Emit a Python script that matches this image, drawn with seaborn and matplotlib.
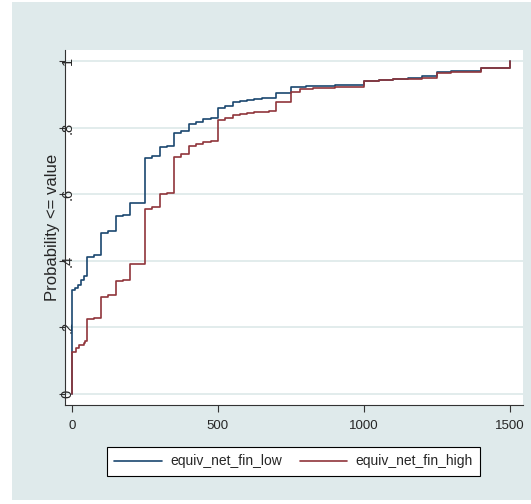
import pandas as pd
import seaborn as sns
import matplotlib.pyplot as plt
from matplotlib.patches import Rectangle

# ECDF step points
low_x = [0, 0, 10, 20, 30, 40, 50, 75, 100, 125, 150, 175, 200, 250, 275, 300, 325, 350, 375,
         400, 425, 450, 475, 500, 525, 550, 575, 600, 625, 650, 675, 700, 750, 800, 850, 900,
         950, 1000, 1050, 1100, 1150, 1200, 1250, 1300, 1350, 1400, 1500, 1500]
low_y = [0, 0.312, 0.318, 0.328, 0.342, 0.355, 0.412, 0.417, 0.484, 0.490, 0.534, 0.537, 0.575,
         0.709, 0.714, 0.741, 0.744, 0.783, 0.790, 0.810, 0.818, 0.826, 0.829, 0.860, 0.866,
         0.876, 0.880, 0.883, 0.885, 0.888, 0.890, 0.905, 0.921, 0.924, 0.926, 0.927, 0.929,
         0.940, 0.943, 0.945, 0.948, 0.955, 0.966, 0.969, 0.971, 0.978, 0.978, 1.0]

high_x = [0, 0, 15, 25, 40, 45, 50, 75, 100, 125, 150, 175, 200, 225, 250, 275, 300, 325, 350,
          375, 400, 425, 450, 475, 500, 525, 550, 575, 600, 625, 650, 675, 700, 750, 780, 825,
          900, 950, 1000, 1050, 1100, 1150, 1200, 1250, 1300, 1350, 1400, 1500, 1500]
high_y = [0, 0.127, 0.137, 0.147, 0.152, 0.160, 0.224, 0.228, 0.292, 0.296, 0.340, 0.343,
          0.389, 0.391, 0.556, 0.562, 0.600, 0.604, 0.713, 0.722, 0.745, 0.752, 0.758, 0.761,
          0.823, 0.830, 0.838, 0.841, 0.843, 0.846, 0.848, 0.850, 0.878, 0.908, 0.915, 0.920,
          0.921, 0.922, 0.940, 0.943, 0.945, 0.947, 0.950, 0.963, 0.966, 0.968, 0.978, 0.978, 1.0]

y_ticks = [0, 0.2, 0.4, 0.6, 0.8, 1.0]
y_tick_labels = ["0", ".2", ".4", ".6", ".8", "1"]
x_ticks = [0, 500, 1000, 1500]
series_names = ["equiv_net_fin_low", "equiv_net_fin_high"]

bg = "#dfeaeb"
navy = "#1a476f"
maroon = "#90353b"

sns.set_style("white")
plt.rcParams['font.family'] = ["Liberation Sans", "DejaVu Sans"]

fig = plt.figure(figsize=(5.31, 5.04), dpi=100)
fig.patch.set_facecolor("white")
fig.patches.append(Rectangle((12 / 531, 4 / 504), 1 - 12 / 531, 498 / 504,
                             transform=fig.transFigure, facecolor=bg, edgecolor="none", zorder=-5))

ax = fig.add_axes([65 / 531, 99 / 504, 458 / 531, 355 / 504])
ax.set_zorder(2)
ax.set_facecolor("white")

low = pd.DataFrame({"x": low_x, "y": low_y})
high = pd.DataFrame({"x": high_x, "y": high_y})
sns.lineplot(data=low, x="x", y="y", ax=ax, color=navy, lw=1.2, estimator=None,
             sort=False, drawstyle="steps-post", label=series_names[0])
sns.lineplot(data=high, x="x", y="y", ax=ax, color=maroon, lw=1.2, estimator=None,
             sort=False, drawstyle="steps-post", label=series_names[1])

ax.set_xlim(-24, 1545)
ax.set_ylim(-0.033, 1.033)
ax.set_yticks(y_ticks)
ax.set_yticklabels(y_tick_labels, rotation=90, va="center", fontsize=10.5)
ax.set_xticks(x_ticks)
ax.set_xticklabels([str(t) for t in x_ticks], fontsize=9.5)
ax.tick_params(axis="x", length=5, width=0.8, color="#333333", pad=6, direction="out", bottom=True)
ax.tick_params(axis="y", length=4, width=0.8, color="#333333", pad=-11, direction="out", left=True)
ax.grid(axis="y", color=bg, lw=1.3)
ax.grid(axis="x", visible=False)
for side in ["top", "right"]:
    ax.spines[side].set_visible(False)
for side in ["left", "bottom"]:
    ax.spines[side].set_color("#333333")
    ax.spines[side].set_linewidth(0.8)

ax.set_xlabel("")
ax.set_ylabel("Probability <= value", fontsize=12)
ax.yaxis.set_label_coords(-5 / 458, 0.5)

ax.get_legend().remove()
leg = fig.legend(handles=ax.get_lines()[:2], labels=series_names, loc="center",
                 bbox_to_anchor=(293.5 / 531, 1 - 461.5 / 504), ncol=2,
                 frameon=True, fancybox=False, edgecolor="black", facecolor="white",
                 framealpha=1, handlelength=3.4, handletextpad=0.6, columnspacing=1.3,
                 borderpad=0.55, prop={"size": 10})
leg.get_frame().set_linewidth(0.8)

fig.savefig("out.png", dpi=100)
